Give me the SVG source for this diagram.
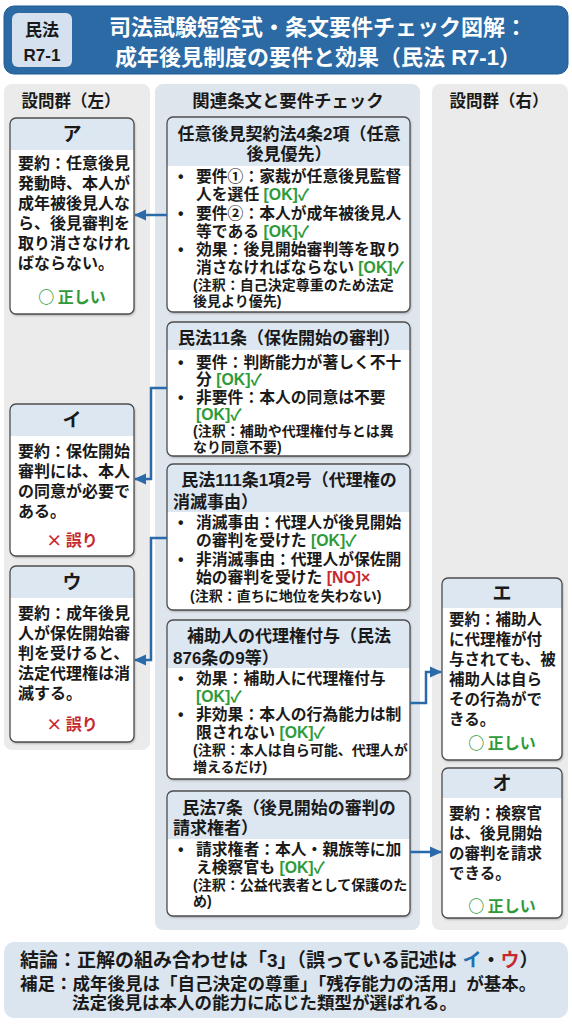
<svg xmlns="http://www.w3.org/2000/svg" width="572" height="1024" viewBox="0 0 572 1024">
<defs>
<style>
text{font-family:"Liberation Sans","Noto Sans CJK JP","Noto Sans CJK SC",sans-serif;font-weight:700;fill:#1a1a1a}
.panel{fill:#ebebeb}
.mid{fill:#dfe5ec}
.card{fill:#ffffff}
.band{fill:#dce7f2}
.bd{fill:none;stroke:#4d4d4d;stroke-width:1.3}
.ttl{font-size:22px;fill:#ffffff}
.badge{font-size:17px;text-anchor:middle}
.colh{font-size:16.5px;text-anchor:middle}
.let{font-size:19px;text-anchor:middle}
.q{font-size:16px}
.qr{font-size:15.5px}
.ok{fill:#2e9a3a}
.ng{fill:#c62a2f}
.res{font-size:16px;text-anchor:middle;font-family:"Noto Sans CJK JP","Noto Sans CJK SC",sans-serif}
.ct{font-size:17px}
.cc{text-anchor:middle}
.ls{text-anchor:start}
.b{font-size:15.8px}
.n{font-size:14px}
.f1{font-size:19px}
.f2{font-size:17.5px}
.conn{fill:none;stroke:#2a6aa8;stroke-width:2.5}
</style>
<filter id="sh" x="-10%" y="-10%" width="130%" height="130%">
<feDropShadow dx="1" dy="1.5" stdDeviation="1.2" flood-color="#000" flood-opacity="0.3"/>
</filter>
<marker id="ah" markerUnits="userSpaceOnUse" markerWidth="12" markerHeight="12" refX="11" refY="6" orient="auto">
<path d="M0,0.5 L12,6 L0,11.5 Z" fill="#2a6aa8"/>
</marker>
</defs>
<rect width="572" height="1024" fill="#ffffff"/>

<g id="header">
<rect x="4" y="6" width="564" height="68" rx="10" fill="#2c6aa5" stroke="#215b91" stroke-width="1"/>
<rect x="12" y="13" width="60" height="54" rx="6" fill="#d5e1ee"/>
<text class="badge"><tspan x="42" y="35.5">民法</tspan><tspan x="42" y="61">R7-1</tspan></text>
<text class="ttl" text-anchor="middle"><tspan x="318" y="35">司法試験短答式・条文要件チェック図解：</tspan><tspan x="318" y="65">成年後見制度の要件と効果（民法 R7-1）</tspan></text>
</g>

<g id="panel-left">
<rect class="panel" x="4" y="84" width="146" height="666" rx="8"/>
<text class="colh" x="71" y="107">設問群（左）</text>
</g>
<g id="panel-mid">
<rect class="mid" x="155" y="84" width="265" height="846" rx="8"/>
<text class="colh" x="288" y="107" style="font-size:17.4px">関連条文と要件チェック</text>
</g>
<g id="panel-right">
<rect class="panel" x="432" y="84" width="136" height="846" rx="8"/>
<text class="colh" x="499" y="107">設問群（右）</text>
</g>

<g id="card-a">
<rect class="card" x="10" y="118" width="124" height="196" rx="6" filter="url(#sh)"/>
<path class="band" d="M10,150 V124 Q10,118 16,118 H128 Q134,118 134,124 V150 Z"/>
<rect class="bd" x="10" y="118" width="124" height="196" rx="6"/>
<text class="q"><tspan class="let" x="72" y="141">ア</tspan><tspan x="18" y="169">要約：任意後見</tspan><tspan x="18" y="189">発動時、本人が</tspan><tspan x="18" y="209">成年被後見人な</tspan><tspan x="18" y="229">ら、後見審判を</tspan><tspan x="18" y="249">取り消さなけれ</tspan><tspan x="18" y="269">ばならない。</tspan></text>
<text class="res ok" x="72" y="303">○ 正しい</text>
</g>

<g id="card-i">
<rect class="card" x="10" y="404" width="124" height="152" rx="6" filter="url(#sh)"/>
<path class="band" d="M10,436 V410 Q10,404 16,404 H128 Q134,404 134,410 V436 Z"/>
<rect class="bd" x="10" y="404" width="124" height="152" rx="6"/>
<text class="q"><tspan class="let" x="72" y="427">イ</tspan><tspan x="18" y="457">要約：保佐開始</tspan><tspan x="18" y="477">審判には、本人</tspan><tspan x="18" y="497">の同意が必要で</tspan><tspan x="18" y="517">ある。</tspan></text>
<text class="res ng" x="72" y="546">× 誤り</text>
</g>

<g id="card-u">
<rect class="card" x="10" y="566" width="124" height="176" rx="6" filter="url(#sh)"/>
<path class="band" d="M10,598 V572 Q10,566 16,566 H128 Q134,566 134,572 V598 Z"/>
<rect class="bd" x="10" y="566" width="124" height="176" rx="6"/>
<text class="q"><tspan class="let" x="72" y="589">ウ</tspan><tspan x="18" y="619">要約：成年後見</tspan><tspan x="18" y="639">人が保佐開始審</tspan><tspan x="18" y="659">判を受けると、</tspan><tspan x="18" y="679">法定代理権は消</tspan><tspan x="18" y="699">滅する。</tspan></text>
<text class="res ng" x="72" y="730">× 誤り</text>
</g>

<g id="card-e">
<rect class="card" x="442" y="578" width="120" height="182" rx="6" filter="url(#sh)"/>
<path class="band" d="M442,608 V584 Q442,578 448,578 H556 Q562,578 562,584 V608 Z"/>
<rect class="bd" x="442" y="578" width="120" height="182" rx="6"/>
<text class="qr"><tspan class="let" x="502" y="600">エ</tspan><tspan x="449" y="625">要約：補助人</tspan><tspan x="449" y="645">に代理権が付</tspan><tspan x="449" y="665">与されても、被</tspan><tspan x="449" y="685">補助人は自ら</tspan><tspan x="449" y="705">その行為がで</tspan><tspan x="449" y="725">きる。</tspan></text>
<text class="res ok" x="502" y="749">○ 正しい</text>
</g>

<g id="card-o">
<rect class="card" x="442" y="768" width="120" height="150" rx="6" filter="url(#sh)"/>
<path class="band" d="M442,798 V774 Q442,768 448,768 H556 Q562,768 562,774 V798 Z"/>
<rect class="bd" x="442" y="768" width="120" height="150" rx="6"/>
<text class="qr"><tspan class="let" x="502" y="790">オ</tspan><tspan x="449" y="819">要約：検察官</tspan><tspan x="449" y="839">は、後見開始</tspan><tspan x="449" y="859">の審判を請求</tspan><tspan x="449" y="879">できる。</tspan></text>
<text class="res ok" x="502" y="912">○ 正しい</text>
</g>

<g id="law-1">
<rect class="card" x="167" y="117" width="243" height="195" rx="6" filter="url(#sh)"/>
<path class="band" d="M167,166 V123 Q167,117 173,117 H404 Q410,117 410,123 V166 Z"/>
<rect class="bd" x="167" y="117" width="243" height="195" rx="6"/>
<text class="b"><tspan class="ct cc" x="289" y="139.5">任意後見契約法4条2項（任意</tspan><tspan class="ct cc" x="289" y="159.5">後見優先）</tspan><tspan x="178" y="182">•</tspan><tspan x="196" y="182">要件①：家裁が任意後見監督</tspan><tspan x="196" y="200">人を選任 <tspan class="ok">[OK]✓</tspan></tspan><tspan x="178" y="218.5">•</tspan><tspan x="196" y="218.5">要件②：本人が成年被後見人</tspan><tspan x="196" y="237">等である <tspan class="ok">[OK]✓</tspan></tspan><tspan x="178" y="255">•</tspan><tspan x="196" y="255">効果：後見開始審判等を取り</tspan><tspan x="196" y="273">消さなければならない <tspan class="ok">[OK]✓</tspan></tspan><tspan class="n" x="193" y="289.5">(注釈：自己決定尊重のため法定</tspan><tspan class="n" x="193" y="305.5">後見より優先)</tspan></text>
</g>

<g id="law-2">
<rect class="card" x="167" y="322" width="243" height="134" rx="6" filter="url(#sh)"/>
<path class="band" d="M167,350 V328 Q167,322 173,322 H404 Q410,322 410,328 V350 Z"/>
<rect class="bd" x="167" y="322" width="243" height="134" rx="6"/>
<text class="b"><tspan class="ct cc" x="289" y="343.5">民法11条（保佐開始の審判）</tspan><tspan class="ls" x="178" y="367.5">•</tspan><tspan x="196" y="367.5">要件：判断能力が著しく不十</tspan><tspan x="196" y="385">分 <tspan class="ok">[OK]✓</tspan></tspan><tspan x="178" y="402.5">•</tspan><tspan x="196" y="402.5">非要件：本人の同意は不要</tspan><tspan class="ok" x="196" y="420.3">[OK]✓</tspan><tspan class="n" x="193" y="436.2">(注釈：補助や代理権付与とは異</tspan><tspan class="n" x="193" y="452">なり同意不要)</tspan></text>
</g>

<g id="law-3">
<rect class="card" x="167" y="464" width="243" height="146" rx="6" filter="url(#sh)"/>
<path class="band" d="M167,512 V470 Q167,464 173,464 H404 Q410,464 410,470 V512 Z"/>
<rect class="bd" x="167" y="464" width="243" height="146" rx="6"/>
<text class="b"><tspan class="ct cc" x="289" y="485.5">民法111条1項2号（代理権の</tspan><tspan class="ct ls" x="173" y="507.5">消滅事由）</tspan><tspan x="178" y="528">•</tspan><tspan x="196" y="528">消滅事由：代理人が後見開始</tspan><tspan x="196" y="546">の審判を受けた <tspan class="ok">[OK]✓</tspan></tspan><tspan x="178" y="565">•</tspan><tspan x="196" y="565">非消滅事由：代理人が保佐開</tspan><tspan x="196" y="583">始の審判を受けた <tspan class="ng">[NO]×</tspan></tspan><tspan class="n" x="190" y="601">(注釈：直ちに地位を失わない)</tspan></text>
</g>

<g id="law-4">
<rect class="card" x="167" y="620" width="243" height="159" rx="6" filter="url(#sh)"/>
<path class="band" d="M167,668 V626 Q167,620 173,620 H404 Q410,620 410,626 V668 Z"/>
<rect class="bd" x="167" y="620" width="243" height="159" rx="6"/>
<text class="b"><tspan class="ct cc" x="289" y="641.5">補助人の代理権付与（民法</tspan><tspan class="ct ls" x="173" y="663.5">876条の9等）</tspan><tspan x="178" y="684">•</tspan><tspan x="196" y="684">効果：補助人に代理権付与</tspan><tspan class="ok" x="196" y="702">[OK]✓</tspan><tspan x="178" y="720">•</tspan><tspan x="196" y="720">非効果：本人の行為能力は制</tspan><tspan x="196" y="738">限されない <tspan class="ok">[OK]✓</tspan></tspan><tspan class="n" x="193" y="755">(注釈：本人は自ら可能、代理人が</tspan><tspan class="n" x="193" y="772">増えるだけ)</tspan></text>
</g>

<g id="law-5">
<rect class="card" x="167" y="791" width="243" height="125" rx="6" filter="url(#sh)"/>
<path class="band" d="M167,839 V797 Q167,791 173,791 H404 Q410,791 410,797 V839 Z"/>
<rect class="bd" x="167" y="791" width="243" height="125" rx="6"/>
<text class="b"><tspan class="ct cc" x="289" y="813.5">民法7条（後見開始の審判の</tspan><tspan class="ct ls" x="173" y="833.5">請求権者）</tspan><tspan x="178" y="855">•</tspan><tspan x="196" y="855">請求権者：本人・親族等に加</tspan><tspan x="196" y="873">え検察官も <tspan class="ok">[OK]✓</tspan></tspan><tspan class="n" x="193" y="890">(注釈：公益代表者として保護のた</tspan><tspan class="n" x="193" y="906">め)</tspan></text>
</g>

<g id="connectors">
<path class="conn" d="M167,215 H135" marker-end="url(#ah)"/>
<path class="conn" d="M167,388 H151 V479 H135" marker-end="url(#ah)"/>
<path class="conn" d="M167,538 H151 V660 H135" marker-end="url(#ah)"/>
<path class="conn" d="M410,703 H426 V672 H441" marker-end="url(#ah)"/>
<path class="conn" d="M410,852 H441" marker-end="url(#ah)"/>
</g>

<g id="footer">
<rect x="4" y="942" width="564" height="76" rx="10" fill="#dbe5ef"/>
<text class="f2"><tspan class="f1" x="20" y="967">結論：正解の組み合わせは「3」（誤っている記述は <tspan fill="#1f6fb0">イ</tspan>・<tspan fill="#c62a2f">ウ</tspan>）</tspan><tspan x="20" y="989.5">補足：成年後見は「自己決定の尊重」「残存能力の活用」が基本。</tspan><tspan x="72" y="1009.2">法定後見は本人の能力に応じた類型が選ばれる。</tspan></text>
</g>
</svg>
